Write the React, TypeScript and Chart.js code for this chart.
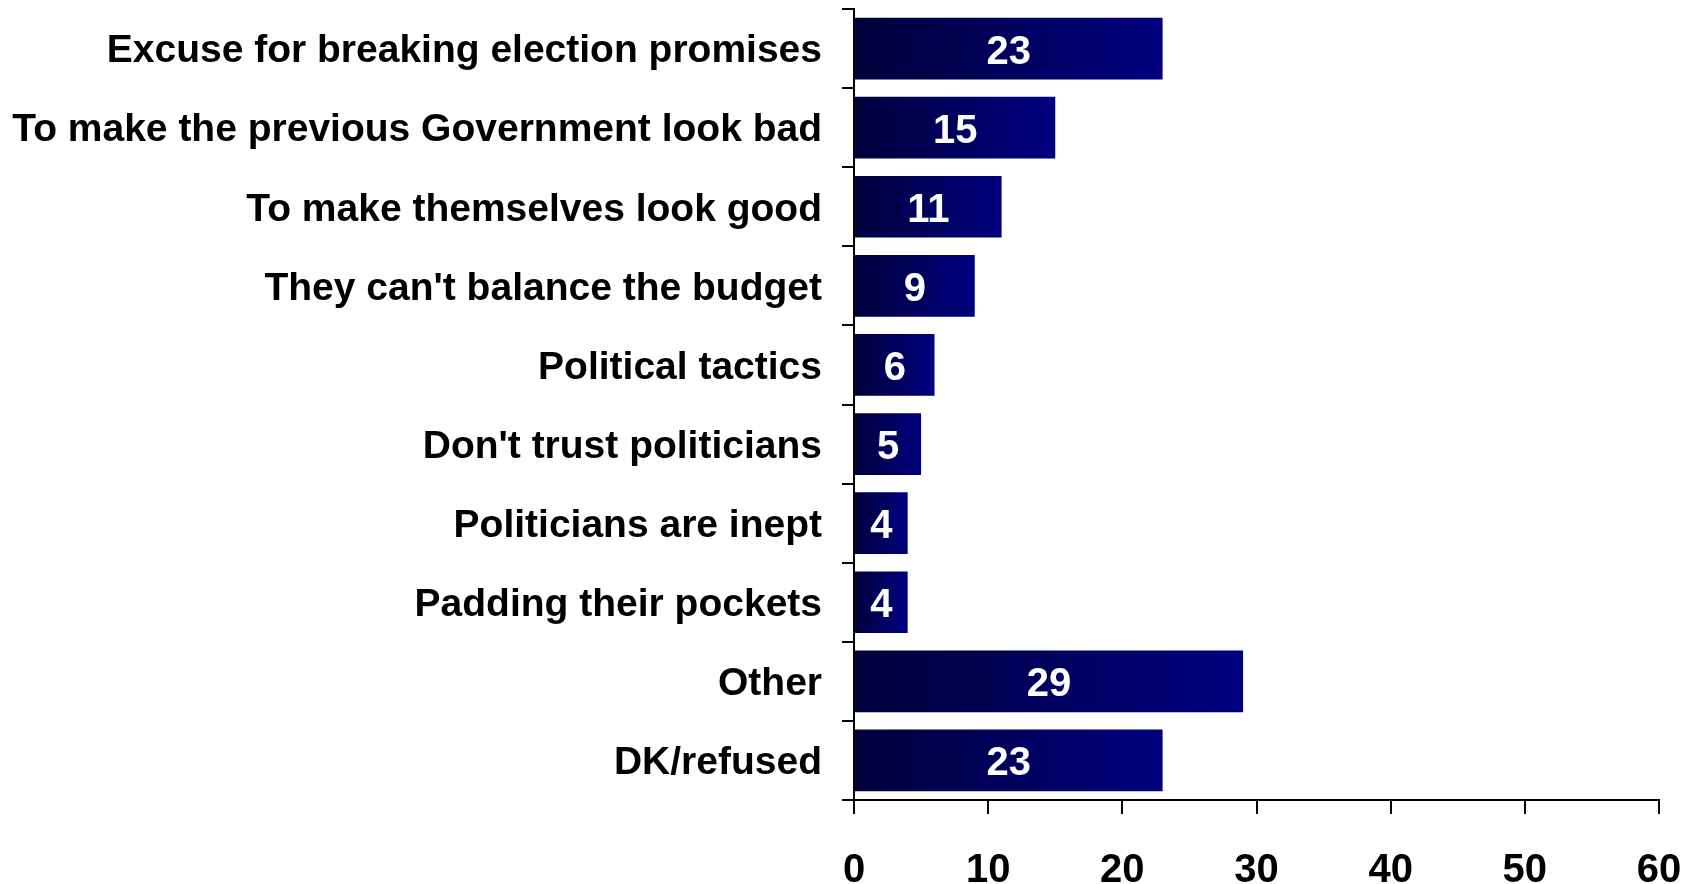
import React, { useEffect, useRef } from "react";
import { Chart, registerables } from "chart.js";

Chart.register(...registerables);

const categories = [
  "Excuse for breaking election promises",
  "To make the previous Government look bad",
  "To make themselves look good",
  "They can't balance the budget",
  "Political tactics",
  "Don't trust politicians",
  "Politicians are inept",
  "Padding their pockets",
  "Other",
  "DK/refused",
];
const values = [23, 15, 11, 9, 6, 5, 4, 4, 29, 23];
const xMin = 0;
const xMax = 60;
const xStep = 10;

const FONT = '"Liberation Sans", Arial, Helvetica, sans-serif';

export default function App() {
  const ref = useRef<HTMLCanvasElement>(null);

  useEffect(() => {
    document.body.style.margin = "0";
    document.body.style.overflow = "hidden";
    const canvas = ref.current;
    if (!canvas) return;

    const labelPlugin = {
      id: "barLabels",
      afterDatasetsDraw(chart: any) {
        const c = chart.ctx;
        const meta = chart.getDatasetMeta(0);
        c.save();
        c.fillStyle = "#ffffff";
        c.font = `bold 40px ${FONT}`;
        c.textAlign = "center";
        c.textBaseline = "middle";
        meta.data.forEach((el: any, i: number) => {
          const p = el.getProps(["x", "y", "base"], true);
          c.fillText(String(values[i]), (p.x + p.base) / 2, p.y + 4);
        });
        c.restore();
      },
    };

    const yLabelPlugin = {
      id: "yLabels",
      afterDraw(chart: any) {
        const c = chart.ctx;
        const ys = chart.scales.y;
        c.save();
        c.fillStyle = "#000000";
        c.font = `bold 39px ${FONT}`;
        c.textAlign = "right";
        c.textBaseline = "middle";
        const xRight = ys.right - 12 - 20;
        categories.forEach((label, i) => {
          c.fillText(label, xRight, ys.getPixelForTick(i) + 3);
        });
        c.restore();
      },
    };

    const chart = new Chart(canvas, {
      type: "bar",
      data: {
        labels: categories,
        datasets: [
          {
            data: values,
            backgroundColor: (context: any) => {
              const ch = context.chart;
              if (!ch.chartArea || context.dataIndex === undefined) return "#000080";
              const xs = ch.scales.x;
              const x0 = xs.getPixelForValue(0);
              const x1 = xs.getPixelForValue(values[context.dataIndex]);
              const g = ch.ctx.createLinearGradient(x0, 0, x1, 0);
              g.addColorStop(0, "#00003a");
              g.addColorStop(1, "#000080");
              return g;
            },
            borderWidth: 0,
            barPercentage: 0.78,
            categoryPercentage: 1,
          },
        ],
      },
      options: {
        indexAxis: "y",
        responsive: false,
        animation: false,
        layout: { padding: { top: 9, right: 41, left: 0, bottom: 0 } },
        plugins: {
          legend: { display: false },
          tooltip: { enabled: false },
        },
        scales: {
          x: {
            min: xMin,
            max: xMax,
            ticks: {
              stepSize: xStep,
              color: "#000",
              font: { size: 40, weight: "bold", family: FONT },
              padding: 33,
              maxRotation: 0,
            },
            grid: {
              drawOnChartArea: false,
              color: "#000",
              lineWidth: 2,
              tickLength: 14,
              tickWidth: 2,
              tickColor: "#000",
            },
            border: { color: "#000", width: 2 },
            afterFit: (s: any) => {
              s.height = 84;
              s.paddingLeft = 0;
              s.paddingRight = 0;
              s.paddingTop = 0;
              s.paddingBottom = 0;
            },
          },
          y: {
            ticks: {
              display: false,
            },
            grid: {
              offset: true,
              drawOnChartArea: false,
              drawTicks: true,
              color: "#000",
              lineWidth: 2,
              tickLength: 12,
              tickWidth: 2,
              tickColor: "#000",
            },
            border: { color: "#000", width: 2 },
            afterFit: (s: any) => {
              s.width = 854;
              s.paddingLeft = 0;
              s.paddingRight = 0;
              s.paddingTop = 0;
              s.paddingBottom = 0;
            },
          },
        },
      } as any,
      plugins: [labelPlugin, yLabelPlugin],
    });

    return () => chart.destroy();
  }, []);

  return (
    <canvas
      ref={ref}
      width={1700}
      height={884}
      style={{ display: "block", width: 1700, height: 884 }}
    />
  );
}
